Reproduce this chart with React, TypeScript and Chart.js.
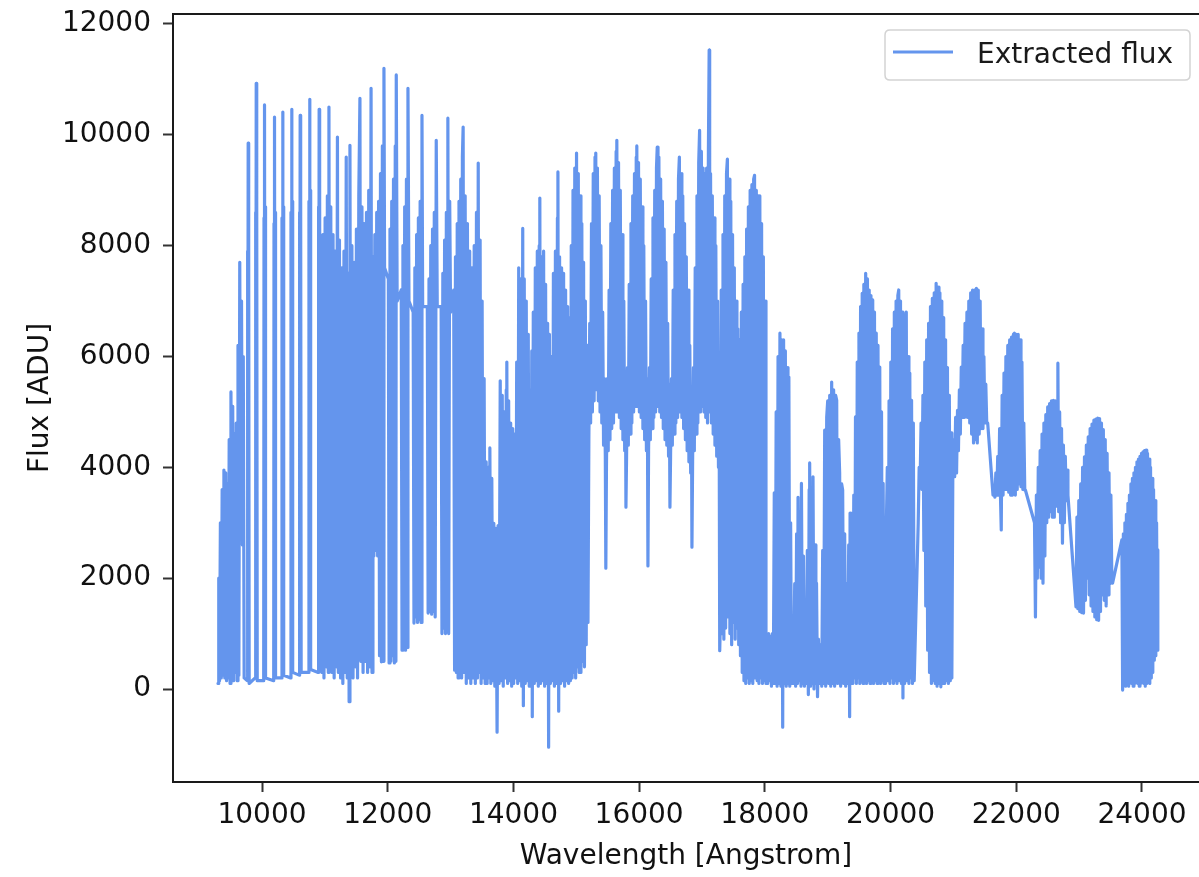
import React, { useEffect, useRef } from 'react';
import { Chart, registerables } from 'chart.js';

Chart.register(...registerables);

const seriesLabel = 'Extracted flux';
const xTitle = 'Wavelength [Angstrom]';
const yTitle = 'Flux [ADU]';
const xTicks = [10000, 12000, 14000, 16000, 18000, 20000, 22000, 24000];
const yTicks = [0, 2000, 4000, 6000, 8000, 10000, 12000];
const xLimits = [8584, 24907];
const yLimits = [-1678, 12180];

// [wavelength (Angstrom), flux (ADU)]
const edgeOrders: number[][] = [
  [9300, 100], [9312, 2000], [9324, 150], [9338, 3000], [9352, 200], [9366, 3600], [9380, 250], [9394, 3950],
  [9408, 200], [9422, 3900], [9436, 150], [9450, 3700], [9464, 200], [9478, 4500], [9492, 100], [9506, 5360],
  [9520, 250], [9534, 5100], [9548, 150], [9562, 4600], [9576, 300], [9590, 4800], [9604, 150], [9618, 6200],
  [9632, 250], [9646, 7700], [9660, 2700], [9674, 7000], [9688, 2600], [9702, 6000], [9716, 200],
];

const combStripes: number[][] = [
  [9764, 150], [9769, 7900], [9774, 300], [9780, 9850], [9785, 250], [9791, 8000], [9796, 100],
  [9892, 200], [9897, 8600], [9902, 400], [9908, 10930], [9913, 300], [9919, 8800], [9924, 150],
  [10027, 150], [10032, 8500], [10037, 350], [10043, 10540], [10048, 300], [10054, 8700], [10059, 200],
  [10186, 150], [10191, 8400], [10196, 300], [10202, 10320], [10207, 400], [10213, 8600], [10218, 200],
  [10313, 200], [10318, 8500], [10323, 400], [10329, 10410], [10334, 300], [10340, 8700], [10345, 250],
  [10456, 200], [10461, 8600], [10466, 400], [10472, 10460], [10477, 500], [10483, 8800], [10488, 300],
  [10591, 250], [10596, 8600], [10601, 500], [10607, 10350], [10612, 400], [10618, 8900], [10623, 300],
  [10742, 300], [10747, 8800], [10752, 600], [10758, 10640], [10763, 500], [10769, 9000], [10774, 350],
  [10893, 300], [10898, 8700], [10903, 500], [10909, 10460], [10914, 600], [10920, 8900], [10925, 400],
];

const denseOrders: number[][] = [
  [10950, 300], [10968, 8200], [10986, 200], [11004, 8500], [11022, 400], [11040, 8900], [11055, 300], [11065, 10500],
  [11078, 500], [11094, 8700], [11112, 300], [11130, 8200], [11148, 200], [11166, 7900], [11184, 400], [11200, 9960],
  [11215, 300], [11232, 8100], [11250, 200], [11268, 7600], [11286, 100], [11304, 7900], [11322, 300], [11340, 9600],
  [11356, 200], [11372, 7500], [11386, -230], [11399, 9810], [11414, 300], [11430, 8000], [11448, 200], [11466, 7700],
  [11484, 400], [11502, 8300], [11520, 200], [11540, 8900], [11558, 10660], [11572, 500], [11590, 8700], [11608, 300],
  [11626, 8400], [11644, 500], [11662, 8600], [11680, 300], [11698, 9000], [11716, 400], [11735, 10840], [11750, 300],
];

const slitOrders: number[][] = [
  [11765, 7800], [11780, 2400], [11795, 8200], [11810, 2500], [11825, 8600], [11840, 2400], [11855, 8800], [11870, 600],
  [11885, 9300], [11900, 490], [11915, 9800], [11928, 500], [11940, 11200], [11950, 7600],
  [12010, 7400], [12022, 470], [12036, 8300], [12050, 500], [12064, 8800], [12078, 600], [12092, 9200], [12106, 470],
  [12120, 9800], [12130, 500], [12136, 11080], [12150, 7000],
  [12215, 7200], [12228, 700], [12242, 8000], [12256, 800], [12270, 8700], [12284, 700], [12298, 9200], [12311, 750],
  [12322, 10840], [12338, 7000],
  [12405, 6800], [12418, 1190], [12432, 7600], [12446, 1300], [12460, 8200], [12474, 1200], [12488, 8500], [12502, 1250],
  [12516, 8800], [12530, 1200], [12545, 10350], [12556, 6900],
  [12630, 6900], [12643, 1370], [12657, 7400], [12671, 1400], [12685, 8000], [12699, 1350], [12713, 8300], [12727, 1400],
  [12741, 8600], [12755, 1300], [12772, 9900], [12788, 6900],
  [12850, 6900], [12863, 1000], [12877, 7500], [12891, 1100], [12905, 8100], [12919, 1000], [12933, 8600], [12945, 1050],
  [12957, 10300], [12970, 1000], [12986, 8800], [13000, 6800],
];

const lateOrders: number[][] = [
  [13050, 7200], [13064, 340], [13078, 7800], [13092, 300], [13106, 8400], [13120, 200], [13134, 8800], [13148, 300],
  [13162, 9200], [13176, 200], [13188, 9600], [13200, 10140], [13214, 300], [13232, 8900], [13250, 100], [13268, 8400],
  [13286, 200], [13304, 7900], [13322, 100], [13340, 7600], [13358, 200], [13376, 8000], [13394, 100], [13412, 8600],
  [13428, 200], [13440, 9490], [13454, 300], [13470, 8100], [13486, 100], [13502, 7000], [13518, 200], [13534, 5600],
  [13550, 100],
];

const telluricBlock: number[][] = [
  [13566, 4100], [13582, 100], [13598, 4000], [13614, 200], [13625, 4350], [13640, 100], [13656, 3800], [13672, 150],
  [13688, 2990], [13704, 50], [13720, 2900], [13740, -780], [13756, 2950], [13772, 100], [13790, 5560], [13806, 150],
  [13822, 5300], [13838, 50], [13854, 5000], [13870, 200], [13886, 5400], [13895, 5900], [13908, 100], [13924, 5200],
  [13940, 150], [13956, 4800], [13972, 50], [13988, 4700], [14004, 100], [14020, 4600], [14036, 200], [14052, 5900],
  [14068, 100], [14084, 7600], [14100, 150], [14116, 7400], [14132, 50], [14148, 8310], [14158, -300], [14172, 7400],
  [14188, 100], [14204, 7000], [14220, 150], [14236, 6400], [14252, 50], [14262, 5400], [14276, 100], [14292, 6100],
  [14300, -500], [14316, 6800], [14332, 100], [14348, 7600], [14364, 150], [14380, 7900], [14396, 50], [14410, 8000],
  [14420, 8860], [14432, 100], [14448, 7800], [14464, 150], [14480, 7900], [14496, 50], [14512, 7300], [14528, 100],
  [14544, 6600], [14560, -1050], [14572, 6400], [14588, 100], [14604, 6000], [14620, 150], [14636, 7500], [14652, 50],
  [14668, 7900], [14684, 100], [14700, 8500], [14708, 9330], [14720, -400], [14734, 7800], [14750, 100], [14766, 7600],
  [14782, 150], [14798, 7500], [14814, 50], [14830, 7200], [14846, 150], [14862, 6900], [14878, 100], [14894, 6700],
];

const blazeHills: number[][] = [
  [14906, 150], [14920, 8000], [14934, 200], [14948, 9000], [14962, 300], [14976, 9400], [14990, 200], [15004, 9670],
  [15018, 400], [15032, 9300], [15046, 300], [15060, 8900], [15074, 300], [15088, 8400], [15102, 500], [15116, 7700],
  [15130, 400], [15144, 7000], [15158, 800], [15172, 6200], [15186, 1200],
  [15200, 4500], [15214, 6600], [15228, 4800], [15242, 8400], [15256, 5000], [15270, 9300], [15284, 5200], [15298, 9600],
  [15310, 9670], [15322, 5400], [15336, 9400], [15350, 5200], [15364, 8900], [15378, 5000], [15392, 8000], [15406, 4800],
  [15420, 6800], [15434, 4400], [15448, 5600], [15462, 4200], [15470, 2180],
  [15480, 4000], [15494, 5600], [15508, 4300], [15522, 7200], [15536, 4500], [15550, 8400], [15564, 4700], [15578, 9000],
  [15592, 4800], [15606, 9400], [15620, 5000], [15634, 9700], [15645, 9900], [15658, 5000], [15672, 9500], [15686, 4900],
  [15700, 9000], [15714, 4700], [15728, 8200], [15742, 4500], [15756, 7000], [15770, 4300], [15782, 5600], [15790, 3280],
  [15800, 4200], [15814, 5800], [15828, 4400], [15842, 7300], [15856, 4600], [15870, 8400], [15884, 4800], [15898, 8900],
  [15912, 5000], [15926, 9300], [15940, 5100], [15954, 9600], [15963, 9800], [15976, 5100], [15990, 9500], [16004, 5000],
  [16018, 9200], [16032, 4900], [16046, 8700], [16060, 4700], [16074, 8000], [16088, 4500], [16102, 7000], [16116, 4300],
  [16130, 5600], [16140, 2220],
  [16150, 4300], [16164, 5800], [16178, 4500], [16192, 7400], [16206, 4700], [16220, 8500], [16234, 4900], [16248, 9000],
  [16262, 5000], [16276, 9400], [16288, 9780], [16300, 5100], [16314, 9600], [16328, 5000], [16342, 9200], [16356, 4900],
  [16370, 8800], [16384, 4700], [16398, 8300], [16412, 4500], [16426, 7700], [16440, 4400], [16454, 6600], [16468, 4200],
  [16480, 5500], [16490, 3280],
];

const blazeHillsRed: number[][] = [
  [16500, 4200], [16514, 5600], [16528, 4400], [16542, 7200], [16556, 4600], [16570, 8200], [16584, 4800], [16598, 8800],
  [16612, 4900], [16626, 9200], [16640, 9600], [16652, 5000], [16666, 9300], [16680, 4900], [16694, 8900], [16708, 4700],
  [16722, 8400], [16736, 4500], [16750, 7800], [16764, 4300], [16778, 7200], [16792, 4100], [16806, 6200], [16820, 3900],
  [16832, 5300], [16840, 2560],
  [16850, 4000], [16864, 5800], [16878, 4300], [16892, 7600], [16906, 4600], [16920, 8900], [16934, 4800], [16948, 9500],
  [16962, 10080], [16976, 5000], [16990, 9700], [17004, 5100], [17018, 9400], [17032, 5000], [17046, 9300], [17060, 4900],
  [17074, 9400], [17088, 4800], [17102, 9700], [17114, 11530], [17122, 5000], [17136, 9300], [17150, 4800], [17164, 8900],
  [17178, 4600], [17192, 8500], [17206, 4400], [17220, 8000], [17234, 4200], [17248, 7000], [17262, 4000], [17272, 5600],
  [17282, 690],
  [17292, 1200], [17306, 7200], [17320, 1000], [17334, 8200], [17348, 900], [17362, 8900], [17376, 1100], [17390, 9300],
  [17404, 9560], [17416, 1300], [17430, 9200], [17444, 1000], [17458, 8800], [17472, 800], [17486, 8200], [17500, 1200],
  [17514, 7600], [17528, 900], [17542, 7000], [17556, 1100], [17570, 6500], [17584, 800], [17598, 6300], [17612, 600],
  [17626, 6800], [17640, 300],
  [17654, 7300], [17668, 150], [17682, 7800], [17696, 100], [17710, 8300], [17724, 200], [17738, 8700], [17752, 100],
  [17766, 9000], [17780, 150], [17794, 9100], [17808, 100], [17822, 9200], [17836, 9270], [17850, 200], [17864, 9000],
  [17878, 150], [17892, 8900], [17906, 100], [17920, 8900], [17934, 200], [17948, 8400], [17962, 100], [17976, 7800],
  [17990, 150], [18004, 7000], [18018, 100],
];

const waterBand: number[][] = [
  [18030, 900], [18045, 100], [18060, 1000], [18075, 150], [18090, 950], [18105, 50], [18120, 1000], [18135, 100],
  [18150, 3540], [18165, 100], [18180, 5000], [18195, 50], [18210, 6000], [18225, 100], [18240, 6420], [18255, 50],
  [18270, 6300], [18284, -690], [18298, 6300], [18312, 100], [18326, 6100], [18340, 50], [18354, 5800], [18368, 100],
  [18382, 5630], [18396, 50], [18410, 3000], [18424, 100], [18440, 1010],
  [18456, 100], [18475, 1900], [18490, 50], [18505, 2800], [18520, 100], [18528, 3460], [18545, 150], [18560, 3200],
  [18575, 50], [18582, 3710], [18598, 100], [18614, 2400], [18630, 50], [18645, 1190], [18660, 100], [18676, 2500],
  [18692, -100], [18705, 3600], [18713, 4080], [18728, 50], [18745, 3400], [18760, 100], [18766, 3830], [18782, 0],
  [18798, 2600], [18812, 100], [18822, 1910], [18838, -140], [18852, 900], [18872, 100],
  [18890, 800], [18905, 50], [18920, 2500], [18936, 100], [18952, 4670], [18968, 50], [18984, 4900], [19000, 5200],
  [19016, 100], [19032, 5300], [19048, 50], [19063, 5540], [19078, 100], [19094, 5400], [19110, 50], [19126, 5300],
  [19143, 5210], [19158, 100], [19174, 4500], [19190, 3900], [19206, 50], [19222, 3700], [19238, 3590], [19254, 100],
  [19270, 2800], [19286, 50], [19302, 1900], [19318, 100], [19334, 2600], [19349, -500], [19356, 3175], [19370, 100],
  [19385, 1500],
];

const kBandHills: number[][] = [
  [19400, 100], [19415, 3500], [19429, 200], [19442, 4910], [19456, 100], [19470, 5900], [19484, 200], [19497, 6420],
  [19510, 100], [19523, 6900], [19536, 150], [19549, 7140], [19562, 100], [19575, 7300], [19590, 200], [19604, 7500],
  [19618, 100], [19632, 7400], [19646, 150], [19660, 7200], [19674, 100], [19688, 7100], [19702, 200], [19716, 7020],
  [19730, 100], [19744, 6800], [19758, 150], [19772, 6420], [19786, 100], [19800, 6200], [19814, 200], [19828, 5810],
  [19842, 100], [19856, 5000], [19870, 150], [19882, 3710], [19896, 100],
  [19920, 100], [19934, 3000], [19948, 4000], [19962, 150], [19976, 5200], [19990, 100], [20004, 5900], [20018, 200],
  [20032, 6500], [20046, 100], [20060, 6800], [20074, 150], [20088, 7000], [20102, 100], [20116, 7100], [20130, 7200],
  [20144, 150], [20158, 7000], [20172, 100], [20186, 6800], [20197, -160], [20210, 6700], [20224, 100], [20238, 6600],
  [20250, 6800], [20264, 150], [20278, 6000], [20292, 100], [20306, 5700], [20320, 200], [20334, 5210], [20348, 100],
  [20362, 4800], [20376, 150],
  [20440, 3000], [20455, 4000], [20470, 3700], [20485, 4800], [20500, 3600], [20515, 5300], [20530, 2500], [20545, 5900],
  [20560, 1500], [20575, 6300], [20590, 700], [20605, 6600], [20620, 300], [20635, 6900], [20650, 100], [20665, 7050],
  [20680, 150], [20695, 7150], [20710, 100], [20725, 7320], [20740, 50], [20755, 7250], [20770, 100], [20785, 7150],
  [20800, 40], [20815, 7000], [20830, 100], [20845, 6700], [20860, 100], [20875, 6300], [20890, 150], [20905, 5800],
  [20920, 100], [20935, 5300], [20950, 150], [20965, 4620], [20975, 200],
  [20990, 3800], [21005, 4500], [21020, 3830], [21035, 4900], [21050, 3900], [21065, 5030], [21080, 4300], [21095, 5400],
  [21110, 4600], [21125, 5810], [21140, 4900], [21155, 6200], [21170, 4900], [21185, 6600], [21200, 4910], [21215, 6800],
  [21230, 4900], [21245, 7000], [21260, 4800], [21275, 7150], [21290, 4600], [21305, 7200], [21320, 4440], [21335, 7200],
  [21350, 4500], [21365, 7230], [21380, 4440], [21395, 7200], [21410, 4600], [21425, 7000], [21440, 4700], [21455, 6500],
  [21470, 4700], [21485, 6000], [21500, 4800], [21515, 5500], [21530, 4800], [21545, 4800],
];

const kBandHillsRed: number[][] = [
  [21630, 3500], [21645, 3600], [21660, 3460], [21675, 3900], [21690, 3500], [21705, 4200], [21720, 3500], [21735, 4700],
  [21750, 3400], [21761, 2870], [21775, 5300], [21790, 3500], [21805, 5700], [21820, 3600], [21835, 6000], [21850, 3600],
  [21865, 6200], [21880, 3550], [21895, 6300], [21910, 3500], [21925, 6350], [21940, 3500], [21955, 6400], [21970, 6420],
  [21985, 3500], [22000, 6400], [22015, 3600], [22030, 6400], [22045, 3700], [22060, 6300], [22075, 3650], [22090, 5900],
  [22105, 3600], [22120, 4800], [22135, 3590], [22145, 3590],
  [22290, 3000], [22305, 1300], [22320, 3500], [22335, 2000], [22350, 4000], [22365, 2200], [22380, 4300], [22395, 2000],
  [22410, 4600], [22425, 1910], [22440, 4800], [22455, 2400], [22470, 4950], [22485, 3000], [22500, 5090], [22515, 3100],
  [22530, 5150], [22545, 3200], [22560, 5200], [22575, 3100], [22590, 5210], [22605, 3100], [22620, 5200], [22635, 3300],
  [22650, 5100], [22662, 5880], [22675, 3200], [22690, 5000], [22705, 3000], [22720, 4700], [22735, 2630], [22750, 4400],
  [22765, 3000], [22780, 4200], [22795, 3400], [22810, 3950], [22822, 3500],
  [22950, 1480], [22965, 3100], [22980, 1450], [22995, 3400], [23010, 1400], [23025, 3700], [23040, 1380], [23055, 4000],
  [23070, 1370], [23085, 4190], [23100, 1600], [23115, 4400], [23130, 2000], [23145, 4550], [23160, 1700], [23175, 4700],
  [23190, 1500], [23205, 4780], [23220, 1400], [23235, 4850], [23250, 1300], [23265, 4870], [23280, 1250], [23295, 4890],
  [23310, 1240], [23325, 4880], [23340, 1400], [23355, 4800], [23370, 1700], [23385, 4680], [23400, 1600], [23415, 4500],
  [23430, 1500], [23445, 4250], [23460, 1700], [23475, 3900], [23490, 1900], [23505, 3500], [23520, 2000], [23532, 1910],
  [23680, 2690], [23692, -20], [23704, 2800], [23716, 100], [23728, 3000], [23740, 50], [23752, 3150], [23764, 100],
  [23776, 3350], [23788, 50], [23800, 3500], [23812, 150], [23824, 3700], [23836, 100], [23848, 3800], [23860, 50],
  [23872, 3900], [23884, 100], [23896, 4000], [23908, 150], [23920, 4100], [23932, 100], [23944, 4150], [23956, 50],
  [23968, 4200], [23980, 100], [23992, 4250], [24004, 150], [24016, 4280], [24028, 100], [24040, 4300], [24052, 50],
  [24064, 4310], [24076, 100], [24088, 4250], [24100, 150], [24112, 4150], [24124, 100], [24136, 4000], [24148, 200],
  [24160, 3800], [24172, 300], [24184, 3600], [24196, 520], [24208, 3400], [24220, 600], [24232, 3000], [24244, 700],
  [24252, 2510],
];

const segments = [
  edgeOrders, combStripes, denseOrders, slitOrders, lateOrders, telluricBlock,
  blazeHills, blazeHillsRed, waterBand, kBandHills, kBandHillsRed,
];

const FONT = 'DejaVu Sans';
const LINE_COLOR = '#6495ED';

const framePlugin = {
  id: 'frameAndLegend',
  afterDraw(chart: any) {
    const { ctx, chartArea: a } = chart;
    ctx.save();
    ctx.strokeStyle = '#1a1a1a';
    ctx.lineWidth = 2;
    ctx.beginPath();
    ctx.moveTo(a.left, a.bottom);
    ctx.lineTo(a.left, a.top);
    ctx.lineTo(a.right + 2, a.top);
    ctx.moveTo(a.left - 1, a.bottom);
    ctx.lineTo(a.right + 2, a.bottom);
    ctx.stroke();

    const lw = 305;
    const lh = 50;
    const lx = a.right - 314;
    const ly = a.top + 16;
    const r = 5;
    ctx.beginPath();
    ctx.moveTo(lx + r, ly);
    ctx.lineTo(lx + lw - r, ly);
    ctx.quadraticCurveTo(lx + lw, ly, lx + lw, ly + r);
    ctx.lineTo(lx + lw, ly + lh - r);
    ctx.quadraticCurveTo(lx + lw, ly + lh, lx + lw - r, ly + lh);
    ctx.lineTo(lx + r, ly + lh);
    ctx.quadraticCurveTo(lx, ly + lh, lx, ly + lh - r);
    ctx.lineTo(lx, ly + r);
    ctx.quadraticCurveTo(lx, ly, lx + r, ly);
    ctx.closePath();
    ctx.fillStyle = 'rgba(255,255,255,0.85)';
    ctx.fill();
    ctx.strokeStyle = '#d3d3d3';
    ctx.lineWidth = 1.5;
    ctx.stroke();

    ctx.strokeStyle = LINE_COLOR;
    ctx.lineWidth = 3;
    ctx.beginPath();
    ctx.moveTo(lx + 8, ly + 22);
    ctx.lineTo(lx + 68, ly + 22);
    ctx.stroke();

    ctx.fillStyle = '#1a1a1a';
    ctx.font = `28px "${FONT}"`;
    ctx.textBaseline = 'alphabetic';
    ctx.textAlign = 'left';
    ctx.fillText(seriesLabel, lx + 92, ly + 33);
    ctx.restore();
  },
};

export default function App() {
  const canvasRef = useRef<HTMLCanvasElement | null>(null);

  useEffect(() => {
    const canvas = canvasRef.current;
    if (!canvas) return;
    const points = segments.flat().map((p) => ({ x: p[0], y: p[1] }));
    const tickFont = { family: FONT, size: 28 };

    const chart = new Chart(canvas, {
      type: 'line',
      data: {
        datasets: [
          {
            label: seriesLabel,
            data: points,
            borderColor: LINE_COLOR,
            backgroundColor: LINE_COLOR,
            borderWidth: 3.2,
            borderJoinStyle: 'round',
            borderCapStyle: 'round',
            pointRadius: 0,
            pointHoverRadius: 0,
            fill: false,
            tension: 0,
          },
        ],
      },
      options: {
        animation: false,
        responsive: false,
        devicePixelRatio: 1,
        events: [],
        layout: { padding: { top: 14, left: 0, right: 0, bottom: 0 } },
        plugins: {
          legend: { display: false },
          tooltip: { enabled: false },
          title: { display: false },
        },
        scales: {
          x: {
            type: 'linear',
            min: xLimits[0],
            max: xLimits[1],
            afterBuildTicks: (scale: any) => {
              scale.ticks = xTicks.map((v) => ({ value: v }));
            },
            afterFit: (scale: any) => {
              scale.height = 95;
              scale.paddingLeft = 0;
              scale.paddingRight = 0;
            },
            ticks: {
              autoSkip: false,
              maxRotation: 0,
              font: tickFont,
              color: '#111',
              padding: 7,
              callback: (v: any) => String(v),
            },
            grid: {
              drawOnChartArea: false,
              drawTicks: true,
              tickLength: 10,
              tickWidth: 2,
              tickColor: '#333',
            },
            border: { display: false },
            title: {
              display: true,
              text: xTitle,
              font: tickFont,
              color: '#111',
              padding: { top: 0, bottom: 3 },
            },
          },
          y: {
            type: 'linear',
            min: yLimits[0],
            max: yLimits[1],
            afterBuildTicks: (scale: any) => {
              scale.ticks = yTicks.map((v) => ({ value: v }));
            },
            afterFit: (scale: any) => {
              scale.width = 173;
              scale.paddingTop = 0;
              scale.paddingBottom = 0;
            },
            ticks: {
              autoSkip: false,
              font: tickFont,
              color: '#111',
              padding: 12,
              callback: (v: any) => String(v),
            },
            grid: {
              drawOnChartArea: false,
              drawTicks: true,
              tickLength: 10,
              tickWidth: 2,
              tickColor: '#333',
            },
            border: { display: false },
            title: {
              display: true,
              text: yTitle,
              font: tickFont,
              color: '#111',
              padding: { top: 24, bottom: 0 },
            },
          },
        },
      },
      plugins: [framePlugin],
    } as any);

    return () => {
      chart.destroy();
    };
  }, []);

  return (
    <div style={{ position: 'absolute', left: 0, top: 0, width: 1199, height: 877, background: '#fff' }}>
      <canvas ref={canvasRef} width={1199} height={877} style={{ display: 'block', width: 1199, height: 877 }} />
    </div>
  );
}
